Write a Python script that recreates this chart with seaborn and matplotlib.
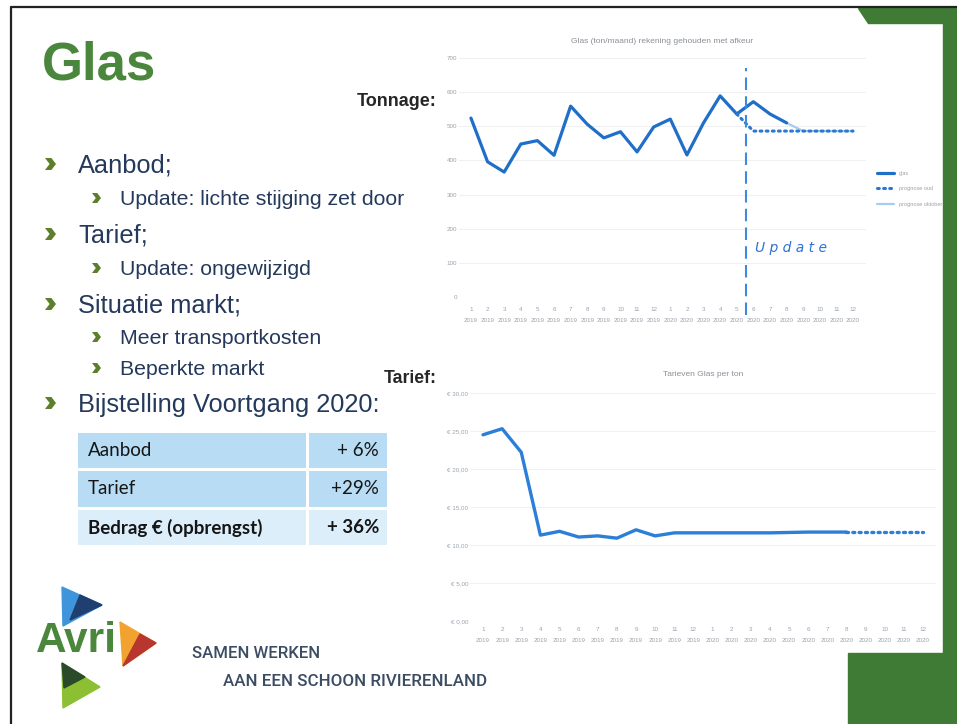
import pandas as pd
import matplotlib.pyplot as plt
import seaborn as sns
from matplotlib.patches import Rectangle, Polygon

# ---- data ----
maanden = [1, 2, 3, 4, 5, 6, 7, 8, 9, 10, 11, 12, 1, 2, 3, 4, 5, 6, 7, 8, 9, 10, 11, 12]
jaren = ['2019'] * 12 + ['2020'] * 12

# tonnage glas per maand (index 0 = jan 2019)
glas_ton = [524, 396, 366, 448, 458, 415, 559, 506, 466, 484, 425, 498,
            521, 416, 510, 589, 536, 572, 536, 510]
prognose_oud_idx = [16, 17, 18, 19, 20, 21, 22, 23]
prognose_oud = [536, 486, 486, 486, 486, 486, 486, 486]
prognose_okt_idx = [19, 20, 21, 22, 23]
prognose_okt = [510, 486, 486, 486, 486]

# tarief glas per ton (euro)
tarief = [24.5, 25.3, 22.2, 11.3, 11.8, 11.05, 11.2, 10.9, 12.0, 11.2, 11.6, 11.6,
          11.6, 11.6, 11.6, 11.6, 11.65, 11.7, 11.7, 11.7]
tarief_prog_idx = [19, 20, 21, 22, 23]
tarief_prog = [11.7, 11.7, 11.7, 11.7, 11.7]

tabel_labels = ['Aanbod', 'Tarief', 'Bedrag € (opbrengst)']
tabel_waarden = ['+ 6%', '+29%', '+ 36%']

bullets = [
    (0, 'Aanbod;', 173),
    (1, 'Update: lichte stijging zet door', 205),
    (0, 'Tarief;', 243),
    (1, 'Update: ongewijzigd', 275),
    (0, 'Situatie markt;', 313),
    (1, 'Meer transportkosten', 344),
    (1, 'Beperkte markt', 375),
    (0, 'Bijstelling Voortgang 2020:', 412),
]

sns.set_style("white")
plt.rcParams['font.family'] = ['Liberation Sans', 'DejaVu Sans']

W, H = 957, 724
fig = plt.figure(figsize=(W / 100, H / 100), dpi=100)

# overlay in pixel coordinates for the slide itself
bg = fig.add_axes([0, 0, 1, 1], zorder=0)
bg.set_xlim(0, W)
bg.set_ylim(H, 0)
bg.axis('off')

groen = '#3f7b34'
navy = '#24395b'
# slide frame
bg.plot([11, W], [7, 7], color='#222222', lw=1.6)
bg.plot([11, 11], [7, H], color='#222222', lw=1.6)
bg.add_patch(Polygon([(858, 8), (W, 8), (W, 655), (W, H), (848, H), (848, 653),
                      (943, 653), (943, 23), (868, 23)], closed=True, color=groen))

# titel
bg.text(42, 80, 'Glas', color='#4a873c', fontsize=38, fontweight='bold', va='baseline')


def chevron(x, yc, w, h):
    pts = [(x, yc - h / 2), (x + w * 0.58, yc - h / 2), (x + w, yc),
           (x + w * 0.58, yc + h / 2), (x, yc + h / 2), (x + w * 0.42, yc)]
    bg.add_patch(Polygon(pts, closed=True, color='#5d7f2c', lw=0))


# bullets
for niveau, tekst, y in bullets:
    if niveau == 0:
        chevron(45, y - 9, 11, 12)
        bg.text(78, y, tekst, color=navy, fontsize=18.3, va='baseline')
    else:
        chevron(92, y - 7, 9, 10)
        bg.text(119.5, y, tekst, color=navy, fontsize=15.3, va='baseline')

# tabel
rijen = [(433, 468, '#b7dcf4'), (471, 507, '#b7dcf4'), (510, 545, '#dceefa')]
for i, (y0, y1, kleur) in enumerate(rijen):
    bg.add_patch(Rectangle((78, y0), 228, y1 - y0, color=kleur, lw=0))
    bg.add_patch(Rectangle((309, y0), 78, y1 - y0, color=kleur, lw=0))
    gewicht = 'bold' if i == 2 else 'normal'
    yc = (y0 + y1) / 2
    bg.text(88, yc, tabel_labels[i], fontsize=13.5, family=['Lato', 'DejaVu Sans'],
            fontweight=gewicht, va='center', color='#151515')
    bg.text(379, yc, tabel_waarden[i], fontsize=13.5, family=['Lato', 'DejaVu Sans'],
            fontweight=gewicht, va='center', ha='right', color='#151515')

bg.text(437, 106, 'Tonnage:', fontsize=13, fontweight='bold', ha='right', va='baseline')
bg.text(437, 383, 'Tarief:', fontsize=12.7, fontweight='bold', ha='right', va='baseline')

# logo
bg.add_patch(Polygon([(62, 587), (102, 605), (63, 626)], color='#3f95dc'))
bg.add_patch(Polygon([(80, 595), (102, 605), (70, 620)], color='#1f3f70'))
bg.add_patch(Polygon([(120, 622), (156, 643), (123, 666)], color='#f2a22e'))
bg.add_patch(Polygon([(140, 634), (156, 643), (123, 666)], color='#b8362e'))
bg.add_patch(Polygon([(62, 663), (100, 687), (63, 708)], color='#8dbf33'))
bg.add_patch(Polygon([(62, 663), (85, 677), (64, 688)], color='#2a4a2a'))
bg.text(36, 652, 'Avri', color='#4a873c', fontsize=30.5, fontweight='bold', va='baseline')
bg.text(192, 658, 'SAMEN WERKEN', color='#3b4c63', fontsize=12.1,
        family=['Roboto', 'DejaVu Sans'], fontweight='medium', va='baseline')
bg.text(223, 686, 'AAN EEN SCHOON RIVIERENLAND', color='#3b4c63', fontsize=12.2,
        family=['Roboto', 'DejaVu Sans'], fontweight='medium', va='baseline')


def frac(x0, x1, ytop, ybot):
    return [x0 / W, 1 - ybot / H, (x1 - x0) / W, (ybot - ytop) / H]


tick_kleur = '#9aa2ad'
xlabels = [f'{m}\n{j}' for m, j in zip(maanden, jaren)]

# ---- bovenste grafiek: tonnage ----
ax1 = fig.add_axes(frac(458.5, 865.5, 58, 297), zorder=2)
ax1.set_facecolor('none')
df_glas = pd.DataFrame({'maand': range(len(glas_ton)), 'ton': glas_ton})
sns.lineplot(data=df_glas, x='maand', y='ton', ax=ax1, color='#1f6fc8', lw=2.3, label='glas')
sns.lineplot(x=prognose_oud_idx, y=prognose_oud, ax=ax1, color='#2a78d0', lw=2.2,
             linestyle=(0, (0.6, 1.4)), dash_capstyle='round', label='prognose oud')
sns.lineplot(x=prognose_okt_idx, y=prognose_okt, ax=ax1, color='#a5cdf0', lw=1.6,
             label='prognose oktober', zorder=1)
ax1.set_xlim(-0.75, 23.75)
ax1.set_ylim(0, 700)
ax1.set_yticks(range(0, 701, 100))
ax1.set_xticks(range(24))
ax1.set_xticklabels(xlabels)
ax1.grid(axis='y', color='#f0f0f0', lw=0.8)
ax1.tick_params(axis='x', length=0, pad=7, labelsize=4.5, labelcolor=tick_kleur)
ax1.tick_params(axis='y', length=0, pad=1, labelsize=4.5, labelcolor=tick_kleur)
for lbl in ax1.get_xticklabels():
    lbl.set_linespacing(2.6)
ax1.set_xlabel('')
ax1.set_ylabel('')
sns.despine(ax=ax1, left=True, bottom=True)
ax1.set_title('Glas (ton/maand) rekening gehouden met afkeur', fontsize=6, color='#8a8f96', pad=11)
ax1.axvline(16.55, ymin=-0.075, ymax=0.958, color='#3d8ae0', lw=1.5, dashes=(6, 3), clip_on=False)
ax1.text(17.1, 143, 'U p d a t e', fontsize=10, style='italic', color='#2f72d6',
         family='DejaVu Sans', va='center')
ax1.legend(loc='upper left', bbox_to_anchor=(1.015, 0.55), frameon=False, fontsize=4,
           handlelength=3.2, labelspacing=1.9, labelcolor='#9aa2ad')

# ---- onderste grafiek: tarief ----
ax2 = fig.add_axes(frac(469.6, 936.4, 393, 621), zorder=2)
ax2.set_facecolor('none')
df_tarief = pd.DataFrame({'maand': range(len(tarief)), 'tarief': tarief})
sns.lineplot(data=df_tarief, x='maand', y='tarief', ax=ax2, color='#2b7fd8', lw=2.4)
sns.lineplot(x=tarief_prog_idx, y=tarief_prog, ax=ax2, color='#2b7fd8', lw=2.4,
             linestyle=(0, (0.6, 1.3)), dash_capstyle='round')
ax2.set_xlim(-0.7, 23.7)
ax2.set_ylim(0, 30)
ax2.set_yticks(range(0, 31, 5))
ax2.set_yticklabels([f'€ {v},00' for v in range(0, 31, 5)])
ax2.set_xticks(range(24))
ax2.set_xticklabels(xlabels)
ax2.grid(axis='y', color='#f0f0f0', lw=0.8)
ax2.tick_params(axis='x', length=0, pad=4, labelsize=4.5, labelcolor=tick_kleur)
ax2.tick_params(axis='y', length=0, pad=1, labelsize=4.5, labelcolor=tick_kleur)
for lbl in ax2.get_xticklabels():
    lbl.set_linespacing(2.5)
ax2.set_xlabel('')
ax2.set_ylabel('')
sns.despine(ax=ax2, left=True, bottom=True)
ax2.set_title('Tarieven Glas per ton', fontsize=6, color='#8a8f96', pad=12)

fig.savefig('out.png', dpi=100)
